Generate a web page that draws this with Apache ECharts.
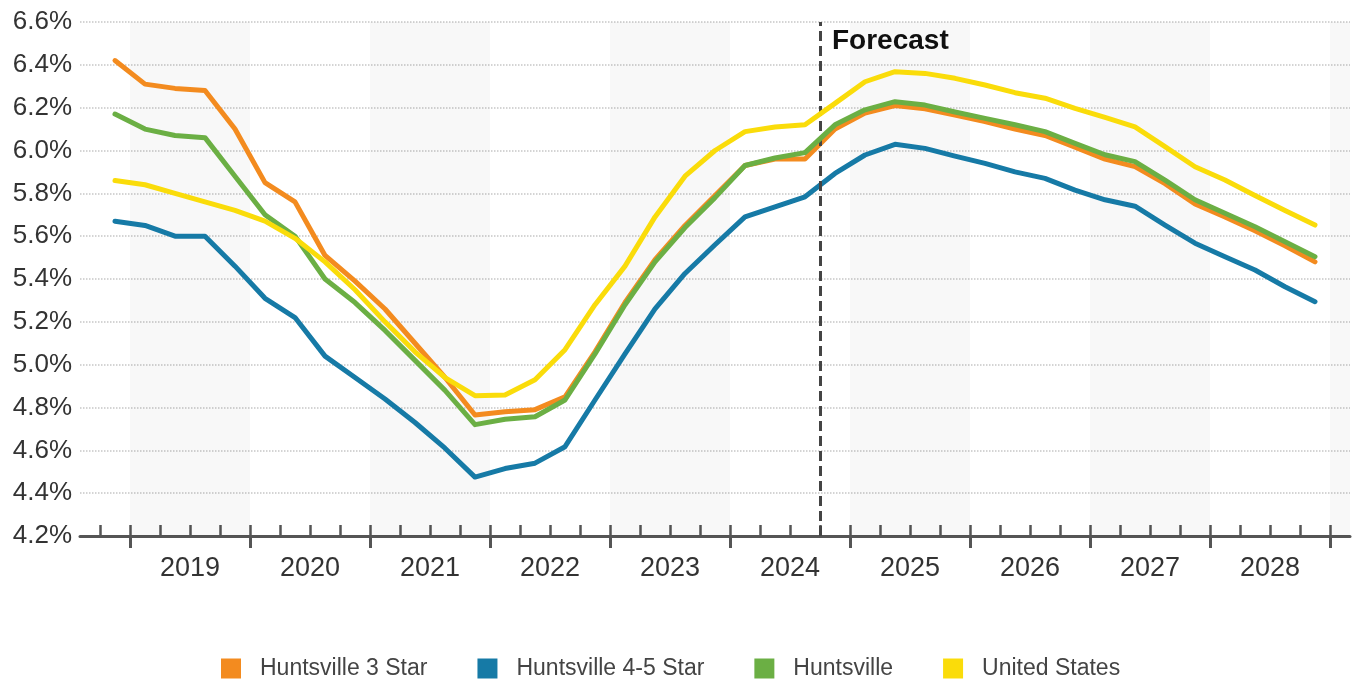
<!DOCTYPE html>
<html>
<head>
<meta charset="utf-8">
<script src="https://cdn.jsdelivr.net/npm/echarts@6/dist/echarts.min.js"></script>
<style>
  html, body { margin: 0; padding: 0; background: #fff; }
  #chart { width: 1356px; height: 684px; }
</style>
</head>
<body>
<div id="chart"></div>
<script>
// Quarterly vacancy rates (%), 2018 Q4 – 2028 Q4
const quarters = [
  '2018 Q4',
  '2019 Q1', '2019 Q2', '2019 Q3', '2019 Q4',
  '2020 Q1', '2020 Q2', '2020 Q3', '2020 Q4',
  '2021 Q1', '2021 Q2', '2021 Q3', '2021 Q4',
  '2022 Q1', '2022 Q2', '2022 Q3', '2022 Q4',
  '2023 Q1', '2023 Q2', '2023 Q3', '2023 Q4',
  '2024 Q1', '2024 Q2', '2024 Q3', '2024 Q4',
  '2025 Q1', '2025 Q2', '2025 Q3', '2025 Q4',
  '2026 Q1', '2026 Q2', '2026 Q3', '2026 Q4',
  '2027 Q1', '2027 Q2', '2027 Q3', '2027 Q4',
  '2028 Q1', '2028 Q2', '2028 Q3', '2028 Q4'
];

const huntsville3Star = [
  6.42,
  6.31, 6.29, 6.28, 6.10,
  5.85, 5.76, 5.51, 5.39,
  5.26, 5.10, 4.94, 4.765,
  4.78, 4.79, 4.85, 5.06,
  5.29, 5.49, 5.65, 5.79,
  5.93, 5.96, 5.96, 6.10,
  6.175, 6.21, 6.195, 6.165,
  6.135, 6.10, 6.07, 6.015,
  5.96, 5.925, 5.845, 5.75,
  5.69, 5.625, 5.555, 5.48
];

const huntsville45Star = [
  5.67,
  5.65, 5.60, 5.60, 5.46,
  5.31, 5.22, 5.04, 4.94,
  4.84, 4.73, 4.61, 4.475,
  4.515, 4.54, 4.617, 4.835,
  5.05, 5.26, 5.426, 5.56,
  5.69, 5.737, 5.784, 5.893,
  5.979, 6.029, 6.01, 5.974,
  5.94, 5.90, 5.87, 5.815,
  5.77, 5.74, 5.652, 5.567,
  5.504, 5.442, 5.364, 5.294
];

const huntsville = [
  6.17,
  6.10, 6.07, 6.06, 5.88,
  5.70, 5.60, 5.40, 5.29,
  5.16, 5.02, 4.88, 4.72,
  4.745, 4.757, 4.835, 5.05,
  5.28, 5.48, 5.64, 5.78,
  5.93, 5.965, 5.99, 6.12,
  6.19, 6.228, 6.212, 6.18,
  6.15, 6.12, 6.088, 6.033,
  5.98, 5.948, 5.862, 5.77,
  5.707, 5.644, 5.574, 5.504
];

const unitedStates = [
  5.86,
  5.84, 5.80, 5.76, 5.72,
  5.67, 5.59, 5.48, 5.35,
  5.20, 5.06, 4.94, 4.855,
  4.858, 4.93, 5.07, 5.28,
  5.46, 5.69, 5.88, 6.00,
  6.088, 6.11, 6.12, 6.22,
  6.321, 6.368, 6.36, 6.337,
  6.306, 6.27, 6.244, 6.197,
  6.155, 6.11, 6.018, 5.924,
  5.862, 5.79, 5.72, 5.652
];

const yearLabels = [2019, 2020, 2021, 2022, 2023, 2024, 2025, 2026, 2027, 2028];
const shadedYears = [2019, 2021, 2023, 2025, 2027, 2029];
const forecastStart = '2024 Q4';

const seriesNames = ['Huntsville 3 Star', 'Huntsville 4-5 Star', 'Huntsville', 'United States'];
const seriesColors = ['#F38B1F', '#167AA6', '#6BAF44', '#FADC0A'];

// quarter label -> position on a continuous year scale (centre of the quarter)
function quarterCenter(label) {
  const [y, q] = label.split(' Q');
  return Number(y) + (Number(q) - 1) / 4 + 0.125;
}
function quarterStart(label) {
  const [y, q] = label.split(' Q');
  return Number(y) + (Number(q) - 1) / 4;
}

const xMin = 2018 + 7 / 12;
const xMax = 2029 + 2 / 12;

// quarter boundaries for minor ticks, year boundaries for major ticks
const quarterTicks = [];
for (let v = 2018.75; v <= 2029 + 1e-9; v += 0.25) quarterTicks.push(+v.toFixed(2));
const yearTicks = yearLabels.concat([yearLabels[yearLabels.length - 1] + 1]);
const yearLabelPos = yearLabels.map(y => y + 0.5);

const FONT = "'Liberation Sans', Arial, Helvetica, sans-serif";

const allValues = [huntsville3Star, huntsville45Star, huntsville, unitedStates];
const xs = quarters.map(quarterCenter);

const series = allValues.map((vals, i) => ({
  name: seriesNames[i],
  type: 'line',
  xAxisIndex: 0,
  yAxisIndex: 0,
  data: vals.map((v, k) => [xs[k], v]),
  showSymbol: false,
  symbol: 'none',
  color: seriesColors[i],
  lineStyle: { width: 5, color: seriesColors[i], join: 'round', cap: 'round' },
  z: 3 + i,
  silent: true
}));

// alternating year bands
series[0].markArea = {
  silent: true,
  itemStyle: { color: 'rgba(0,0,0,0.026)' },
  data: shadedYears.map(y => [{ xAxis: y }, { xAxis: y + 1 }])
};

// forecast divider
series[1].markLine = {
  silent: true,
  symbol: 'none',
  label: { show: false },
  lineStyle: { color: '#444', width: 3, type: [10, 5] },
  data: [{ xAxis: quarterStart(forecastStart) }]
};

const chart = echarts.init(document.getElementById('chart'), null, { renderer: 'canvas' });

const option = {
  animation: false,
  backgroundColor: '#fff',
  textStyle: { fontFamily: FONT },
  grid: { left: 80, right: 6, top: 22, bottom: 148, containLabel: false },
  legend: {
    data: seriesNames,
    left: 216,
    top: 652,
    icon: 'rect',
    itemWidth: 20,
    itemHeight: 20,
    itemGap: 50,
    selectedMode: false,
    textStyle: { fontFamily: FONT, fontSize: 23, color: '#444', padding: [0, 0, 0, 14] }
  },
  xAxis: [
    {
      type: 'value',
      min: xMin,
      max: xMax,
      position: 'bottom',
      axisLine: { show: true, lineStyle: { color: '#555', width: 3 } },
      axisTick: { show: true, inside: true, length: 11, customValues: quarterTicks, lineStyle: { color: '#555', width: 2.5 } },
      axisLabel: { show: false },
      splitLine: { show: false }
    },
    {
      type: 'value',
      min: xMin,
      max: xMax,
      position: 'bottom',
      axisLine: { show: false },
      axisTick: { show: true, inside: false, length: 12, customValues: yearTicks, lineStyle: { color: '#555', width: 3 } },
      axisLabel: {
        show: true,
        customValues: yearLabelPos,
        formatter: v => String(Math.floor(v)),
        fontFamily: FONT,
        fontSize: 27,
        color: '#333',
        margin: 19
      },
      splitLine: { show: false }
    }
  ],
  yAxis: {
    type: 'value',
    min: 4.2,
    max: 6.6,
    interval: 0.2,
    axisLine: { show: false },
    axisTick: { show: false },
    axisLabel: {
      formatter: v => v.toFixed(1) + '%',
      fontFamily: FONT,
      fontSize: 26,
      color: '#333',
      margin: 8
    },
    splitLine: { show: true, lineStyle: { color: '#c6c6c6', width: 1.5, type: 'dotted' } }
  },
  series: series
};

chart.setOption(option);

// "Forecast" caption placed just right of the divider, at the top of the plot
const p = chart.convertToPixel({ xAxisIndex: 0, yAxisIndex: 0 }, [quarterStart(forecastStart), 6.6]);
chart.setOption({
  graphic: [{
    type: 'text',
    x: p[0] + 12,
    y: p[1] + 5,
    silent: true,
    style: { text: 'Forecast', fontFamily: FONT, fontSize: 28, fontWeight: 'bold', fill: '#111' }
  }]
});
</script>
</body>
</html>
